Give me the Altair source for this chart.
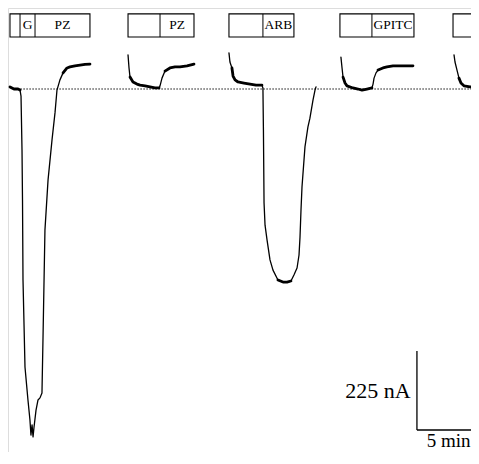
import altair as alt
import pandas as pd

# ---- trace segments (time in min, current in nA; 0 nA = baseline) ----
seg1_t = [0.16, 0.48, 0.81, 0.97, 1.05, 1.13, 1.17, 1.21, 1.37, 1.61, 1.77, 1.85, 1.94, 2.02, 2.10, 2.26, 2.42, 2.58, 2.74, 2.82, 2.98, 3.23, 3.55, 3.79, 3.95, 4.19, 4.44, 4.76, 5.00, 5.40, 5.81, 6.21, 6.61]
seg1_i = [6, 0, 0, -3, -20, -174, -316, -544, -792, -886, -943, -986, -957, -991, -963, -915, -886, -880, -866, -715, -402, -259, -145, -68, -3, 26, 46, 60, 63, 66, 68, 70, 71]
seg2_t = [9.68, 9.76, 9.84, 10.08, 10.40, 10.65, 11.05, 11.45, 11.85, 12.18, 12.26, 12.42, 12.66, 13.06, 13.47, 13.87, 14.44, 15.00]
seg2_i = [97, 60, 34, 20, 14, 11, 9, 6, 3, 3, 9, 31, 51, 60, 63, 63, 66, 71]
seg3_t = [17.82, 17.90, 18.06, 18.15, 18.31, 18.55, 19.03, 19.52, 20.00, 20.48, 20.56, 20.60, 20.65, 20.73, 20.89, 21.13, 21.37, 21.77, 22.18, 22.50, 22.82, 23.06, 23.31, 23.47, 23.55, 23.63, 23.71, 23.95, 24.19, 24.35, 24.60, 24.76, 24.84]
seg3_i = [103, 77, 60, 37, 26, 20, 17, 14, 11, 11, 3, -117, -325, -388, -430, -487, -516, -544, -550, -550, -547, -530, -510, -473, -422, -345, -279, -165, -108, -83, -31, -3, 6]
seg4_t = [26.85, 26.94, 27.02, 27.18, 27.34, 27.82, 28.23, 28.55, 28.95, 29.35, 29.44, 29.52, 29.68, 29.84, 30.24, 30.56, 31.05, 31.61, 32.18, 32.66]
seg4_i = [91, 60, 34, 17, 9, 3, 0, -3, 0, 3, 14, 31, 46, 54, 60, 63, 66, 66, 66, 66]
seg5_t = [35.97, 36.05, 36.21, 36.37, 36.53, 36.77, 37.26, 37.98]
seg5_i = [97, 77, 54, 31, 17, 9, 6, 3]

# noisy plateau stretches (drawn thicker): (segment, start time, end time)
plateaus = [(1, 0.16, 0.97), (1, 4.44, 6.61), (2, 9.84, 12.18), (2, 12.66, 15.0),
            (3, 18.06, 20.48), (3, 21.77, 22.82), (4, 27.02, 29.35), (4, 29.84, 32.66),
            (5, 36.37, 37.98)]

# ---- drug application boxes ----
box_start = [0.16, 9.68, 17.82, 26.77, 35.89]
box_div = [2.18, 12.26, 20.56, 29.35, 40.0]
box_end = [6.61, 15.00, 23.06, 32.74, 40.0]
box_labels = ["PZ", "PZ", "ARB", "GPITC", ""]
g_div = [0.97]
g_label = ["G"]
box_top = 214
box_bottom = 148

# ---- scale bar (225 nA x 5 min) ----
bar_t0, bar_t1 = 32.98, 37.98
bar_i0, bar_i1 = -971.5, -746.5
bar_labels = ["225 nA", "5 min"]

X_DOM = [0, 37.34]
Y_DOM = [-1034.2, 230.8]

segs = [(seg1_t, seg1_i), (seg2_t, seg2_i), (seg3_t, seg3_i), (seg4_t, seg4_i), (seg5_t, seg5_i)]
rows = []
for k, (ts, cs) in enumerate(segs, start=1):
    for j, (t, c) in enumerate(zip(ts, cs)):
        rows.append({"piece": f"s{k}", "w": 1.3, "ord": j, "t": t, "i": c})
for p, (k, a, b) in enumerate(plateaus):
    ts, cs = segs[k - 1]
    j = 0
    for t, c in zip(ts, cs):
        if a - 1e-9 <= t <= b + 1e-9:
            rows.append({"piece": f"p{p}", "w": 2.8, "ord": j, "t": t, "i": c})
            j += 1
trace = pd.DataFrame(rows)

xs = alt.Scale(domain=X_DOM, nice=False, zero=False)
ys = alt.Scale(domain=Y_DOM, nice=False, zero=False)
X = lambda f: alt.X(f, type="quantitative", scale=xs, axis=None)
Y = lambda f: alt.Y(f, type="quantitative", scale=ys, axis=None)
SERIF = "Liberation Serif, Times New Roman, serif"

lines = alt.Chart(trace).mark_line(color="#000", strokeJoin="round", strokeCap="round", clip=True).encode(
    x=X("t"), y=Y("i"), detail="piece:N", order="ord:Q",
    strokeWidth=alt.StrokeWidth("w:Q", scale=None))

baseline = alt.Chart(pd.DataFrame({"a": [1.0], "b": [37.98], "y": [0]})).mark_rule(
    color="#000", strokeWidth=1.2, strokeDash=[1.4, 1.6], clip=True).encode(x=X("a"), x2="b", y=Y("y"))

boxes_df = pd.DataFrame({"s": box_start, "e": box_end, "d": box_div, "lab": box_labels,
                         "top": [box_top] * 5, "bot": [box_bottom] * 5})
boxes = alt.Chart(boxes_df).mark_rect(fillOpacity=0, stroke="#000", strokeWidth=1.1, clip=True).encode(
    x=X("s"), x2="e", y=Y("top"), y2="bot")
divs = alt.Chart(pd.concat([boxes_df[["d", "top", "bot"]],
                            pd.DataFrame({"d": g_div, "top": [box_top], "bot": [box_bottom]})])).mark_rule(
    color="#000", strokeWidth=1, clip=True).encode(x=X("d"), y=Y("top"), y2="bot")

lab_df = pd.DataFrame({
    "x": [(d + e) / 2 for d, e in zip(box_div[:4], box_end[:4])] + [(g_div[0] + box_div[0]) / 2],
    "lab": box_labels[:4] + g_label,
    "y": [(box_top + box_bottom) / 2] * 5})
labels = alt.Chart(lab_df).mark_text(font=SERIF, fontSize=13.5, color="#000",
                                     baseline="middle", align="center").encode(
    x=X("x"), y=Y("y"), text="lab:N")

vbar = alt.Chart(pd.DataFrame({"x": [bar_t0], "a": [bar_i0], "b": [bar_i1]})).mark_rule(
    color="#000", strokeWidth=1.3).encode(x=X("x"), y=Y("a"), y2="b")
hbar = alt.Chart(pd.DataFrame({"a": [bar_t0], "b": [bar_t1], "y": [bar_i0]})).mark_rule(
    color="#000", strokeWidth=1.3, clip=True).encode(x=X("a"), x2="b", y=Y("y"))
tlab1 = alt.Chart(pd.DataFrame({"x": [bar_t0 - 0.5], "y": [-860], "lab": [bar_labels[0]]})).mark_text(
    font=SERIF, fontSize=22, color="#000", align="right", baseline="middle").encode(
    x=X("x"), y=Y("y"), text="lab:N")
tlab2 = alt.Chart(pd.DataFrame({"x": [37.3], "y": [-1020], "lab": [bar_labels[1]]})).mark_text(
    font=SERIF, fontSize=19, color="#000", align="right", baseline="alphabetic").encode(
    x=X("x"), y=Y("y"), text="lab:N")

chart = alt.layer(boxes, divs, labels, baseline, lines, vbar, hbar, tlab1, tlab2).properties(
    width=463, height=444, padding=0, autosize=alt.AutoSizeParams(type="none")
).configure_view(stroke=None).configure(background="white")

chart.save("out.html", embed_options={"renderer": "svg", "actions": False})
